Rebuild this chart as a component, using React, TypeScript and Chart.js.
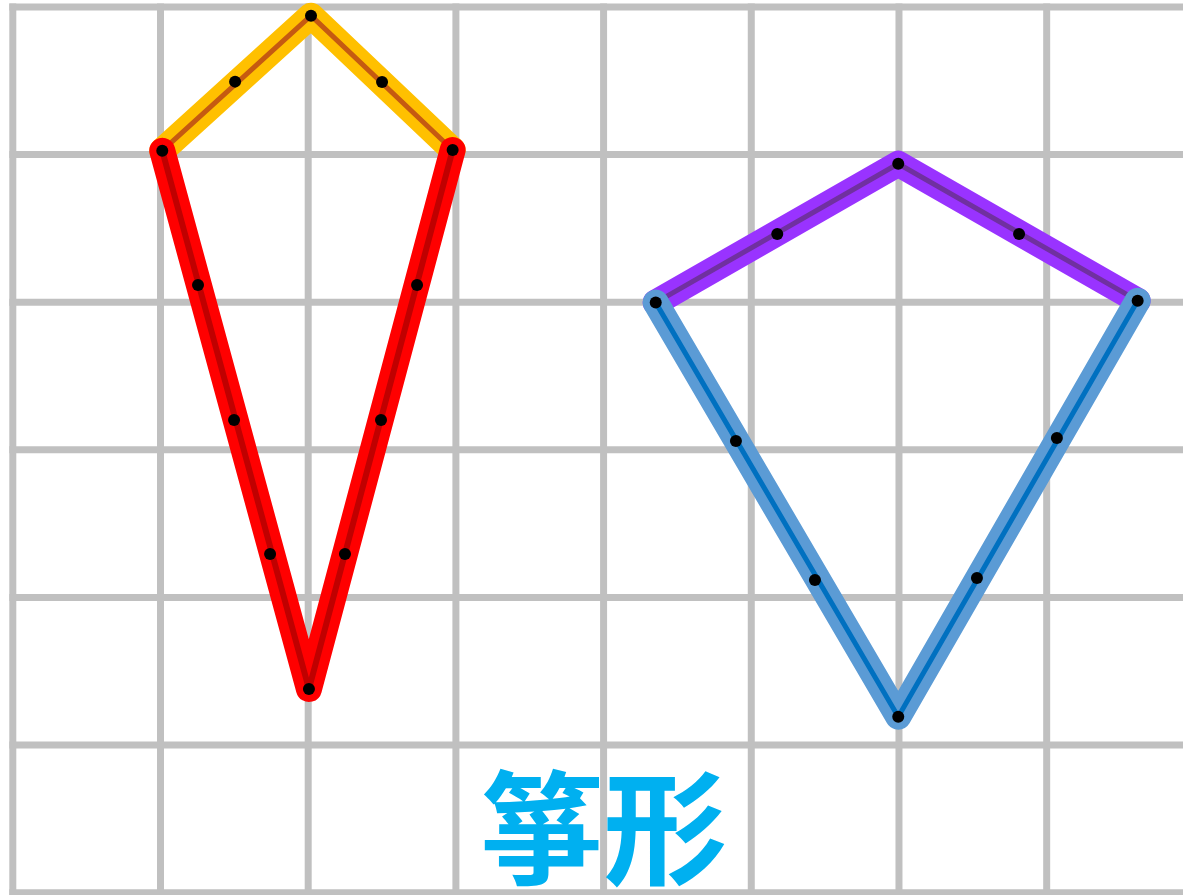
import React, { useEffect, useRef } from "react";
import { Chart, registerables } from "chart.js";

Chart.register(...registerables);

// grid lines (unit cells)
const GRID_X = [0, 1, 2, 3, 4, 5, 6, 7, 8];
const GRID_Y = [0, 1, 2, 3, 4, 5, 6];

// Kite 1 (left): short upper sides and long lower sides
const kite1Upper = [
  { x: 1.012, y: 5.026 },
  { x: 2.019, y: 5.941 },
  { x: 2.978, y: 5.031 },
];
const kite1Lower = [
  { x: 1.012, y: 5.026 },
  { x: 2.005, y: 1.379 },
  { x: 2.978, y: 5.031 },
];

// Kite 2 (right)
const kite2Upper = [
  { x: 4.353, y: 3.997 },
  { x: 5.995, y: 4.938 },
  { x: 7.616, y: 4.01 },
];
const kite2Lower = [
  { x: 4.353, y: 3.997 },
  { x: 5.995, y: 1.192 },
  { x: 7.616, y: 4.01 },
];

// black dots (vertices and marks along the sides)
const kite1Dots = [
  { x: 1.012, y: 5.026 },
  { x: 2.019, y: 5.941 },
  { x: 2.978, y: 5.031 },
  { x: 2.005, y: 1.379 },
  { x: 1.505, y: 5.494 },
  { x: 2.5, y: 5.492 },
  { x: 1.254, y: 4.117 },
  { x: 1.498, y: 3.202 },
  { x: 1.742, y: 2.294 },
  { x: 2.737, y: 4.117 },
  { x: 2.493, y: 3.202 },
  { x: 2.249, y: 2.294 },
];
const kite2Dots = [
  { x: 4.353, y: 3.997 },
  { x: 5.995, y: 4.938 },
  { x: 7.616, y: 4.01 },
  { x: 5.995, y: 1.192 },
  { x: 5.176, y: 4.462 },
  { x: 6.813, y: 4.462 },
  { x: 4.896, y: 3.06 },
  { x: 5.431, y: 2.118 },
  { x: 7.069, y: 3.08 },
  { x: 6.528, y: 2.132 },
];

const TITLE = "箏形";
const TITLE_POS = { x: 4.0, y: 0.44 };

const X_MIN = -0.0867;
const X_MAX = 7.923;
const Y_MIN = -0.016;
const Y_MAX = 6.047;

function lineDs(data: { x: number; y: number }[], color: string, width: number, order: number) {
  return {
    type: "line" as const,
    data,
    borderColor: color,
    backgroundColor: color,
    borderWidth: width,
    borderCapStyle: "round" as const,
    borderJoinStyle: "round" as const,
    pointRadius: 0,
    pointHoverRadius: 0,
    fill: false,
    tension: 0,
    order,
    clip: false as any,
  };
}

const gridPlugin = {
  id: "unitGrid",
  beforeDatasetsDraw(chart: any) {
    const { ctx, scales, width, height } = chart;
    ctx.save();
    ctx.strokeStyle = "#c0c0c0";
    ctx.lineWidth = 7;
    ctx.lineCap = "butt";
    for (const v of GRID_X) {
      const px = scales.x.getPixelForValue(v);
      ctx.beginPath();
      ctx.moveTo(px, scales.y.getPixelForValue(GRID_Y[GRID_Y.length - 1]) - 3.5);
      ctx.lineTo(px, height + 10);
      ctx.stroke();
    }
    for (const v of GRID_Y) {
      const py = scales.y.getPixelForValue(v);
      ctx.beginPath();
      ctx.moveTo(scales.x.getPixelForValue(GRID_X[0]) - 3.5, py);
      ctx.lineTo(width + 10, py);
      ctx.stroke();
    }
    ctx.restore();
  },
};

const titlePlugin = {
  id: "kiteTitle",
  afterDatasetsDraw(chart: any) {
    const { ctx, scales } = chart;
    const px = scales.x.getPixelForValue(TITLE_POS.x);
    const py = scales.y.getPixelForValue(TITLE_POS.y);
    ctx.save();
    ctx.fillStyle = "#00b0f0";
    ctx.font = 'bold 124px "Noto Sans CJK TC", "Noto Sans CJK SC", sans-serif';
    ctx.textAlign = "center";
    ctx.textBaseline = "middle";
    ctx.fillText(TITLE, px, py);
    ctx.restore();
  },
};

export default function App() {
  const ref = useRef<HTMLCanvasElement | null>(null);
  useEffect(() => {
    if (!ref.current) return;
    const chart = new Chart(ref.current, {
      type: "line",
      data: {
        datasets: [
          {
            type: "line",
            data: [...kite1Dots, ...kite2Dots],
            showLine: false,
            pointRadius: 6,
            pointHoverRadius: 6,
            pointBackgroundColor: "#000000",
            pointBorderColor: "#000000",
            pointBorderWidth: 0,
            order: 0,
            clip: false as any,
          } as any,
          lineDs(kite1Lower, "#c00000", 6, 1),
          lineDs(kite1Lower, "#ff0000", 26, 2),
          lineDs(kite1Upper, "#c55a11", 5, 3),
          lineDs(kite1Upper, "#ffc000", 26, 4),
          lineDs(kite2Lower, "#0070c0", 5, 5),
          lineDs(kite2Lower, "#5b9bd5", 26, 6),
          lineDs(kite2Upper, "#7030a0", 5, 7),
          lineDs(kite2Upper, "#9933ff", 26, 8),
        ] as any,
      },
      options: {
        animation: false,
        responsive: false,
        maintainAspectRatio: false,
        devicePixelRatio: 1,
        layout: { padding: 0, autoPadding: false },
        events: [],
        plugins: {
          legend: { display: false },
          tooltip: { enabled: false },
          title: { display: false },
        },
        scales: {
          x: { type: "linear", display: false, min: X_MIN, max: X_MAX },
          y: { type: "linear", display: false, min: Y_MIN, max: Y_MAX },
        },
      } as any,
      plugins: [gridPlugin, titlePlugin],
    });
    return () => chart.destroy();
  }, []);
  return (
    <div style={{ position: "absolute", left: 0, top: 0, width: 1183, height: 895, background: "#ffffff" }}>
      <canvas ref={ref} width={1183} height={895} style={{ display: "block" }} />
    </div>
  );
}
